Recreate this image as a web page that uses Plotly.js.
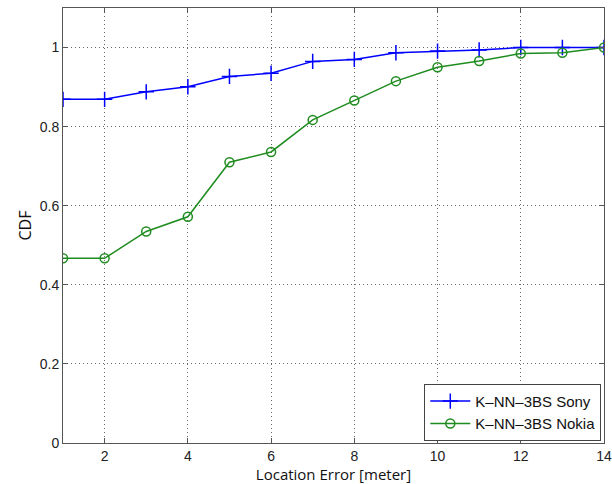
<!DOCTYPE html>
<html><head><meta charset="utf-8">
<script src="https://cdn.plot.ly/plotly-3.0.1.min.js"></script>
<style>body{margin:0;background:#fff}#chart{width:612px;height:484px}</style>
</head><body><div id="chart"></div>
<script>
const xVals = [1,2,3,4,5,6,7,8,9,10,11,12,13,14];
const sony = [0.869,0.869,0.888,0.901,0.927,0.935,0.965,0.970,0.987,0.991,0.994,1.0,1.0,1.0];
const nokia = [0.467,0.467,0.535,0.572,0.710,0.736,0.817,0.866,0.915,0.950,0.966,0.985,0.987,1.0];
const xTicks = [2,4,6,8,10,12,14];
const yTicks = [0,0.2,0.4,0.6,0.8,1];
const yTickText = ['0','0.2','0.4','0.6','0.8','1'];

const traces = [
  {x:xVals,y:sony,name:'K\u2013NN\u20133BS Sony',mode:'lines+markers',
   line:{color:'#0000ff',width:1.5},marker:{symbol:'cross-thin-open',size:11,color:'#0000ff',line:{color:'#0000ff',width:1.5}}},
  {x:xVals,y:nokia,name:'K\u2013NN\u20133BS Nokia',mode:'lines+markers',
   line:{color:'#1f8c1f',width:1.5},marker:{symbol:'circle-open',size:9,color:'#1f8c1f',line:{color:'#1f8c1f',width:1.5}}}
];
const axCommon = {showline:true,mirror:'ticks',linecolor:'#555',linewidth:1,ticks:'inside',ticklen:5,tickcolor:'#555',
  showgrid:true,gridcolor:'#666',griddash:'1px,3px',gridwidth:1,zeroline:false,automargin:false,
  tickfont:{family:'Liberation Sans, Arial',size:14,color:'#222'}};
const layout = {
  width:612,height:484,margin:{l:63,r:8,t:8,b:41},
  paper_bgcolor:'#fff',plot_bgcolor:'#fff',showlegend:true,
  xaxis:Object.assign({},axCommon,{range:[1,14],tickvals:xTicks,
    title:{text:'Location Error [meter]',font:{family:'Open Sans, Liberation Sans',size:15,color:'#111'},standoff:2}}),
  yaxis:Object.assign({},axCommon,{range:[0,1.1],tickvals:yTicks,ticktext:yTickText,
    title:{text:'CDF',font:{family:'Open Sans, Liberation Sans',size:16,color:'#111'},standoff:4}}),
  legend:{x:0.995,y:0.005,xanchor:'right',yanchor:'bottom',bgcolor:'#fff',bordercolor:'#444',borderwidth:1,
    font:{family:'Liberation Sans, Arial',size:15,color:'#111'},tracegroupgap:0,itemwidth:40}
};
Plotly.newPlot('chart',traces,layout,{displayModeBar:false});
</script></body></html>
